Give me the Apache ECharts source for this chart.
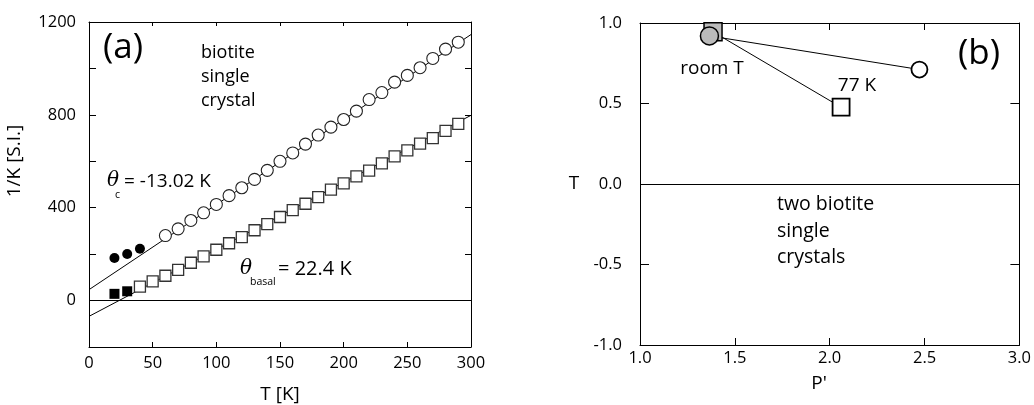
<!DOCTYPE html>
<html lang="en">
<head>
<meta charset="UTF-8">
<title>biotite single crystal</title>
<script src="https://cdn.jsdelivr.net/npm/echarts@6/dist/echarts.min.js"></script>
<style>
  body { margin: 0; background: #fff; }
  #main { width: 1034px; height: 405px; }
</style>
</head>
<body>
<div id="main"></div>
<script>
// panel (a): inverse susceptibility vs temperature
var tempC  = [60, 70, 80, 90, 100, 110, 120, 130, 140, 150, 160, 170, 180, 190, 200, 210, 220, 230, 240, 250, 260, 270, 280, 290];
var invKc  = [280, 309, 345, 378, 414, 452, 486, 522, 561, 600, 636, 674, 713, 747, 780, 816, 866, 896, 941, 970, 1003, 1043, 1083, 1113];
var tempB  = [40, 50, 60, 70, 80, 90, 100, 110, 120, 130, 140, 150, 160, 170, 180, 190, 200, 210, 220, 230, 240, 250, 260, 270, 280, 290];
var invKb  = [60, 83, 107, 132, 163, 190, 219, 247, 273, 303, 329, 360, 390, 417, 446, 478, 505, 535, 560, 591, 621, 647, 676, 700, 731, 761];
var tempLowC = [20, 30, 40];
var invKcLow = [183, 201, 223];
var tempLowB = [20, 30];
var invKbLow = [29, 40];
var fitT = [0, 300];
var fitC = [47, 1146];
var fitB = [-68, 798];

// panel (b): room T and 77 K points
var circleP = [1.366, 2.473];
var circleT = [0.92, 0.711];
var squareP = [1.385, 2.06];
var squareT = [0.945, 0.477];

function zip(a, b) {
    var out = [];
    for (var i = 0; i < a.length; i++) out.push([a[i], b[i]]);
    return out;
}

var FONT = '"Open Sans", "DejaVu Sans", sans-serif';
var lbl = { color: '#000', fontFamily: FONT, fontSize: 16.5 };

function axis(gi, pos, min, max, step, show, tickLen, margin, fmt) {
    return {
        type: 'value', gridIndex: gi, position: pos, min: min, max: max, interval: step,
        axisLine: { show: true, onZero: false, lineStyle: { color: '#000', width: 1 } },
        axisTick: { show: true, inside: true, length: tickLen, lineStyle: { color: '#000', width: 1 } },
        axisLabel: Object.assign({ show: show, margin: margin, formatter: fmt }, lbl),
        splitLine: { show: false }
    };
}

var zeroLine = {
    silent: true, symbol: 'none', label: { show: false },
    lineStyle: { color: '#000', width: 1, type: 'solid' },
    data: [{ yAxis: 0 }]
};

function txt(x, y, s, size, extra) {
    return Object.assign({
        type: 'text', x: x, y: y,
        style: { text: s, font: size + 'px ' + FONT, fill: '#000', align: 'center', verticalAlign: 'middle' }
    }, extra || {});
}

var myChart = echarts.init(document.getElementById('main'));
myChart.setOption({
    animation: false,
    backgroundColor: '#fff',
    grid: [
        { left: 89, top: 22, width: 382, height: 325 },
        { left: 640, top: 23, width: 381, height: 322 }
    ],
    xAxis: [
        axis(0, 'bottom', 0, 300, 50, true, 5, 8, function (v) { return v; }),
        axis(0, 'top', 0, 300, 50, false, 4, 8),
        axis(1, 'bottom', 1, 3, 0.5, true, 7, 5, function (v) { return v.toFixed(1); }),
        axis(1, 'top', 1, 3, 0.5, false, 7, 5)
    ],
    yAxis: [
        axis(0, 'left', -200, 1200, 200, true, 7, 13, function (v) { return (v >= 0 && v % 400 === 0) ? v : ''; }),
        axis(0, 'right', -200, 1200, 200, false, 6, 8),
        axis(1, 'left', -1, 1, 0.5, true, 9, 18, function (v) { return v.toFixed(1); }),
        axis(1, 'right', -1, 1, 0.5, false, 9, 8)
    ],
    series: [
        { type: 'line', xAxisIndex: 0, yAxisIndex: 0, data: zip(fitT, fitC), symbol: 'none', clip: true,
          lineStyle: { color: '#000', width: 1 }, markLine: zeroLine, z: 1 },
        { type: 'line', xAxisIndex: 0, yAxisIndex: 0, data: zip(fitT, fitB), symbol: 'none', clip: true,
          lineStyle: { color: '#000', width: 1 }, z: 1 },
        { type: 'scatter', xAxisIndex: 0, yAxisIndex: 0, data: zip(tempC, invKc), symbol: 'circle', symbolSize: 12,
          itemStyle: { color: '#fff', borderColor: '#222', borderWidth: 1.1, opacity: 1 }, z: 3 },
        { type: 'scatter', xAxisIndex: 0, yAxisIndex: 0, data: zip(tempB, invKb), symbol: 'rect', symbolSize: 11,
          itemStyle: { color: '#fff', borderColor: '#333', borderWidth: 1.3, opacity: 1 }, z: 3 },
        { type: 'scatter', xAxisIndex: 0, yAxisIndex: 0, data: zip(tempLowC, invKcLow), symbol: 'circle', symbolSize: 10,
          itemStyle: { color: '#000', opacity: 1 }, z: 3 },
        { type: 'scatter', xAxisIndex: 0, yAxisIndex: 0, data: zip(tempLowB, invKbLow), symbol: 'rect', symbolSize: 10,
          itemStyle: { color: '#000', opacity: 1 }, z: 3 },

        { type: 'line', xAxisIndex: 2, yAxisIndex: 2, data: zip(circleP, circleT), symbol: 'none',
          lineStyle: { color: '#000', width: 1 }, markLine: zeroLine, z: 1 },
        { type: 'line', xAxisIndex: 2, yAxisIndex: 2, data: zip(squareP, squareT), symbol: 'none',
          lineStyle: { color: '#000', width: 1 }, z: 1 },
        { type: 'scatter', xAxisIndex: 2, yAxisIndex: 2, data: [[squareP[0], squareT[0]]], symbol: 'rect', symbolSize: 18,
          itemStyle: { color: '#bbb', borderColor: '#000', borderWidth: 1.5, opacity: 1 }, z: 3 },
        { type: 'scatter', xAxisIndex: 2, yAxisIndex: 2, data: [[circleP[0], circleT[0]]], symbol: 'circle', symbolSize: 18,
          itemStyle: { color: '#bbb', borderColor: '#000', borderWidth: 1.5, opacity: 1 }, z: 4 },
        { type: 'scatter', xAxisIndex: 2, yAxisIndex: 2, data: [[squareP[1], squareT[1]]], symbol: 'rect', symbolSize: 17,
          itemStyle: { color: '#fff', borderColor: '#000', borderWidth: 1.8, opacity: 1 }, z: 3 },
        { type: 'scatter', xAxisIndex: 2, yAxisIndex: 2, data: [[circleP[1], circleT[1]]], symbol: 'circle', symbolSize: 16,
          itemStyle: { color: '#fff', borderColor: '#000', borderWidth: 1.8, opacity: 1 }, z: 3 }
    ],
    graphic: [
        txt(123, 48, '(a)', 35),
        { type: 'text', x: 201, y: 77, style: { text: 'biotite\nsingle\ncrystal', font: '18px ' + FONT, lineHeight: 24, fill: '#000', align: 'left', verticalAlign: 'middle' } },
        { type: 'text', x: 107, y: 181, style: { text: 'θ', font: 'italic 20px "DejaVu Serif", serif', fill: '#000', align: 'left', verticalAlign: 'middle' } },
        { type: 'text', x: 115, y: 195, style: { text: 'c', font: '10.5px ' + FONT, fill: '#000', align: 'left', verticalAlign: 'middle' } },
        { type: 'text', x: 124, y: 182, style: { text: '= -13.02 K', font: '19px ' + FONT, fill: '#000', align: 'left', verticalAlign: 'middle' } },
        { type: 'text', x: 240, y: 269, style: { text: 'θ', font: 'italic 20px "DejaVu Serif", serif', fill: '#000', align: 'left', verticalAlign: 'middle' } },
        { type: 'text', x: 250, y: 282, style: { text: 'basal', font: '10.5px ' + FONT, fill: '#000', align: 'left', verticalAlign: 'middle' } },
        { type: 'text', x: 278, y: 269, style: { text: '= 22.4 K', font: '20px ' + FONT, fill: '#000', align: 'left', verticalAlign: 'middle' } },
        txt(15, 161, '1/K [S.I.]', 19, { rotation: Math.PI / 2 }),
        txt(280, 395, 'T [K]', 19),

        txt(979, 54, '(b)', 35),
        txt(712, 69, 'room T', 19),
        txt(857, 86, '77 K', 19),
        { type: 'text', x: 777, y: 231, style: { text: 'two biotite\nsingle\ncrystals', font: '19.5px ' + FONT, lineHeight: 26.5, fill: '#000', align: 'left', verticalAlign: 'middle' } },
        txt(574, 184, 'T', 19),
        txt(819, 384, "P'", 19)
    ]
});
</script>
</body>
</html>
